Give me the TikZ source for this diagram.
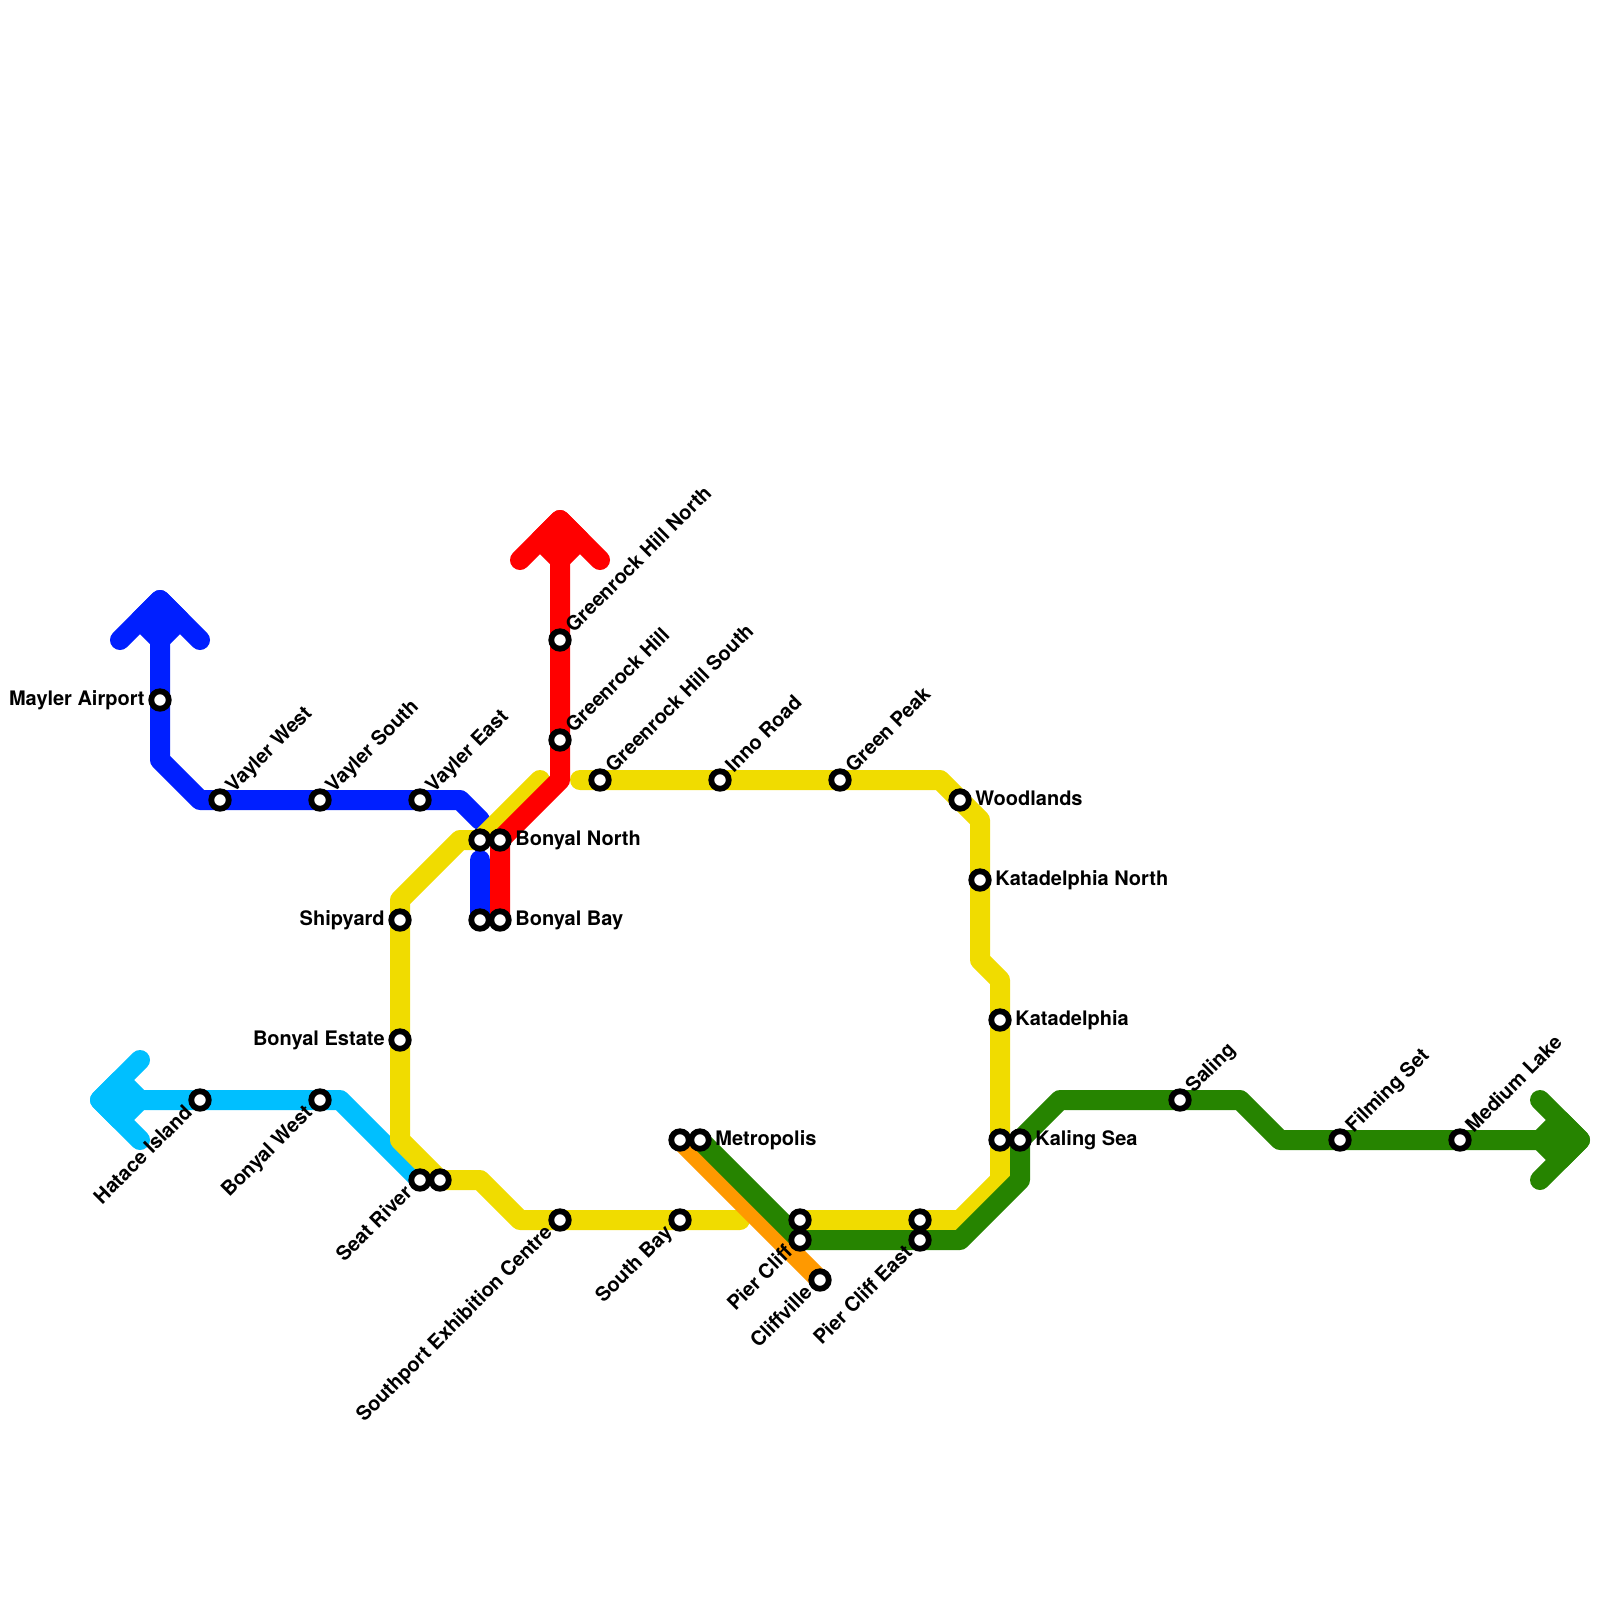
\documentclass[tikz,border=0pt]{standalone}
\usepackage{fontspec}
\setmainfont{TeX Gyre Heros}
\definecolor{lnblue}{HTML}{001FFF}
\definecolor{lnred}{HTML}{FF0000}
\definecolor{lnyellow}{HTML}{F0DC00}
\definecolor{lngreen}{HTML}{268400}
\definecolor{lncyan}{HTML}{00BFFF}
\definecolor{lnorange}{HTML}{FF9900}
\pgfdeclarelayer{lines}
\pgfsetlayers{lines,main}
\tikzset{
  metro/.style={line width=10pt,line join=round,line cap=round},
  station/.style={circle,draw=black,fill=white,line width=2.9pt,minimum size=8.75pt,inner sep=0pt,outer sep=0pt},
  lab/.style={font=\bfseries\fontsize{10pt}{11pt}\selectfont,inner sep=0pt,text=black,text height=7.2pt,text depth=2.1pt},
  labUR/.style={lab,anchor=west,rotate=45},
  labDL/.style={lab,anchor=east,rotate=45},
  labR/.style={lab,anchor=west},
  labL/.style={lab,anchor=east},
}
\newcommand{\stn}[3]{\node[station] (#1) at (#2,#3) {};}
\newcommand{\lUR}[2]{\node[labUR] (l#1) at ([shift={(10,-10)}]#1.center) {#2};}
\newcommand{\lDL}[2]{\node[labDL] (l#1) at ([shift={(-10,10)}]#1.center) {#2};}
\newcommand{\lR}[2]{\node[labR] (l#1) at ([shift={(15,0)}]#1.center) {#2};}
\newcommand{\lL}[2]{\node[labL] (l#1) at ([shift={(-15,0)}]#1.center) {#2};}
\begin{document}
\begin{tikzpicture}[x=0.5pt,y=-0.5pt]
\useasboundingbox (0,0) rectangle (1600,1600);
% stations
\stn{mayler}{160}{700}\lL{mayler}{Mayler Airport}
\stn{vwest}{220}{800}\lUR{vwest}{Vayler West}
\stn{vsouth}{320}{800}\lUR{vsouth}{Vayler South}
\stn{veast}{420}{800}\lUR{veast}{Vayler East}
\stn{bnY}{480}{840}
\stn{bnR}{500}{840}\lR{bnR}{Bonyal North}
\stn{bbB}{480}{920}
\stn{bbR}{500}{920}\lR{bbR}{Bonyal Bay}
\stn{ghn}{560}{640}\lUR{ghn}{Greenrock Hill North}
\stn{gh}{560}{740}\lUR{gh}{Greenrock Hill}
\stn{ghs}{600}{780}\lUR{ghs}{Greenrock Hill South}
\stn{inno}{720}{780}\lUR{inno}{Inno Road}
\stn{gpeak}{840}{780}\lUR{gpeak}{Green Peak}
\stn{wood}{960}{800}\lR{wood}{Woodlands}
\stn{katn}{980}{880}\lR{katn}{Katadelphia North}
\stn{kat}{1000}{1020}\lR{kat}{Katadelphia}
\stn{kalY}{1000}{1140}
\stn{kalG}{1020}{1140}\lR{kalG}{Kaling Sea}
\stn{saling}{1180}{1100}\lUR{saling}{Saling}
\stn{film}{1340}{1140}\lUR{film}{Filming Set}
\stn{medium}{1460}{1140}\lUR{medium}{Medium Lake}
\stn{ship}{400}{920}\lL{ship}{Shipyard}
\stn{best}{400}{1040}\lL{best}{Bonyal Estate}
\stn{hatace}{200}{1100}\lDL{hatace}{Hatace Island}
\stn{bwest}{320}{1100}\lDL{bwest}{Bonyal West}
\stn{seatC}{420}{1180}\lDL{seatC}{Seat River}
\stn{seatY}{440}{1180}
\stn{south}{560}{1220}\lDL{south}{Southport Exhibition Centre}
\stn{sbay}{680}{1220}\lDL{sbay}{South Bay}
\stn{metO}{680}{1140}
\stn{metG}{700}{1140}\lR{metG}{Metropolis}
\stn{pcY}{800}{1220}
\stn{pcG}{800}{1240}\lDL{pcG}{Pier Cliff}
\stn{pceY}{920}{1220}
\stn{pceG}{920}{1240}\lDL{pceG}{Pier Cliff East}
\stn{cliff}{820}{1280}\lDL{cliff}{Cliffville}
% bends and free ends
\coordinate (cTip) at (100,1100);\coordinate (cW1) at (140,1060);\coordinate (cW2) at (140,1140);
\coordinate (cB1) at (120,1080);\coordinate (cB2) at (120,1120);\coordinate (cBk) at (140,1100);
\coordinate (cA) at (340,1100);
\coordinate (bTip) at (160,600);\coordinate (bW1) at (120,640);\coordinate (bW2) at (200,640);
\coordinate (bB1) at (140,620);\coordinate (bB2) at (180,620);\coordinate (bBk) at (160,640);
\coordinate (bA) at (160,760);\coordinate (bC) at (200,800);\coordinate (bD) at (460,800);\coordinate (bE) at (480,820);
\coordinate (bS) at (480,860);
\coordinate (rTip) at (560,520);\coordinate (rW1) at (520,560);\coordinate (rW2) at (600,560);
\coordinate (rB1) at (540,540);\coordinate (rB2) at (580,540);\coordinate (rBk) at (560,560);
\coordinate (rA) at (560,780);
\coordinate (yS) at (540,780);\coordinate (yA) at (460,840);\coordinate (yB) at (400,900);\coordinate (yC) at (400,1140);
\coordinate (yD) at (480,1180);\coordinate (yE) at (520,1220);\coordinate (yF) at (740,1220);
\coordinate (y2S) at (580,780);\coordinate (y2A) at (940,780);\coordinate (y2B) at (980,820);\coordinate (y2C) at (980,960);
\coordinate (y2D) at (1000,980);\coordinate (y2E) at (1000,1180);\coordinate (y2F) at (960,1220);
\coordinate (gA) at (800,1240);\coordinate (gB) at (960,1240);\coordinate (gC) at (1020,1180);
\coordinate (gD) at (1060,1100);\coordinate (gE) at (1240,1100);\coordinate (gF) at (1280,1140);
\coordinate (gTip) at (1580,1140);\coordinate (gW1) at (1540,1100);\coordinate (gW2) at (1540,1180);
\coordinate (gB1) at (1560,1120);\coordinate (gB2) at (1560,1160);\coordinate (gBk) at (1540,1140);
% lines
\begin{pgfonlayer}{lines}
\draw[metro,lncyan] (cW1)--(cTip)--(cW2);
\draw[metro,lncyan,fill=lncyan] (cTip)--(cB1)--(cBk)--(cB2)--cycle;
\draw[metro,lncyan] (cBk)--(hatace.center)--(bwest.center)--(cA)--(seatC.center);
\draw[metro,lnblue] (bW1)--(bTip)--(bW2);
\draw[metro,lnblue,fill=lnblue] (bTip)--(bB1)--(bBk)--(bB2)--cycle;
\draw[metro,lnblue] (bBk)--(mayler.center)--(bA)--(bC)--(vwest.center)--(vsouth.center)--(veast.center)--(bD)--(bE);
\draw[metro,lnblue] (bS)--(bbB.center);
\draw[metro,lnyellow] (yS)--(bnY.center)--(yA)--(yB)--(ship.center)--(best.center)--(yC)--(seatY.center)--(yD)--(yE)--(south.center)--(sbay.center)--(yF);
\draw[metro,lnyellow] (y2S)--(ghs.center)--(inno.center)--(gpeak.center)--(y2A)--(wood.center)--(y2B)--(katn.center)--(y2C)--(y2D)--(kat.center)--(kalY.center)--(y2E)--(y2F)--(pceY.center)--(pcY.center);
\draw[metro,lnred] (rW1)--(rTip)--(rW2);
\draw[metro,lnred,fill=lnred] (rTip)--(rB1)--(rBk)--(rB2)--cycle;
\draw[metro,lnred] (rBk)--(ghn.center)--(gh.center)--(rA)--(bnR.center)--(bbR.center);
\draw[metro,lnorange] (metO.center)--(cliff.center);
\draw[metro,lngreen] (gW1)--(gTip)--(gW2);
\draw[metro,lngreen,fill=lngreen] (gTip)--(gB1)--(gBk)--(gB2)--cycle;
\draw[metro,lngreen] (metG.center)--(gA)--(pceG.center)--(gB)--(gC)--(kalG.center)--(gD)--(saling.center)--(gE)--(gF)--(film.center)--(medium.center)--(gBk);
\end{pgfonlayer}
\end{tikzpicture}
\end{document}
